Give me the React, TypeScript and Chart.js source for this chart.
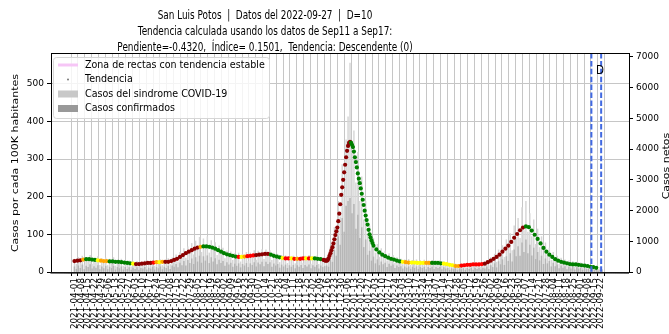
import React, { useEffect, useRef } from 'react';
import { Chart, registerables } from 'chart.js';

Chart.register(...registerables);

// ---------------- DATA ----------------
const START_DATE_UTC = Date.UTC(2021, 3, 1); // day 0 = 2021-04-01

const TITLE_LINES = [
  'San Luis Potos  |  Datos del 2022-09-27  |  D=10',
  'Tendencia calculada usando los datos de Sep11 a Sep17:',
  'Pendiente=-0.4320,  Índice= 0.1501,  Tendencia: Descendente (0)',
];
const LEFT_AXIS_TITLE = 'Casos por cada 100K habitantes';
const RIGHT_AXIS_TITLE = 'Casos netos';
const LEGEND_LABELS = [
  'Zona de rectas con tendencia estable',
  'Tendencia',
  'Casos del sindrome COVID-19',
  'Casos confirmados',
];
const MARKER_TEXT = 'D';

// Trend (cases per 100K) — day index since 2021-04-01
const TREND_DAYS = [
  0, 3, 6, 9, 12, 15, 18, 21, 24, 27,
  30, 33, 36, 39, 42, 45, 48, 51, 54, 57,
  60, 63, 66, 69, 72, 75, 78, 81, 84, 87,
  90, 93, 96, 99, 102, 105, 108, 111, 114, 117,
  120, 123, 126, 129, 132, 135, 138, 141, 144, 147,
  150, 153, 156, 159, 162, 165, 168, 171, 174, 177,
  180, 183, 186, 189, 192, 195, 198, 201, 204, 207,
  210, 213, 216, 219, 222, 225, 228, 231, 234, 237,
  240, 243, 246, 249, 252, 255,
  256, 257, 258, 259, 260, 261, 262, 263, 264, 265,
  266, 267, 268, 269, 270, 271, 272, 273, 274, 275,
  276, 277, 278, 279, 280, 281, 282, 283, 284, 285,
  286, 287, 288, 289, 290, 291, 292, 293, 294, 295,
  296, 297, 298, 299, 300, 301, 302, 303, 304, 305, 306,
  309, 312, 315, 318, 321, 324, 327, 330, 333, 336,
  339, 342, 345, 348, 351, 354, 357, 360, 363, 366,
  369, 372, 375, 378, 381, 384, 387, 390, 393, 396,
  399, 402, 405, 408, 411, 414, 417, 420, 423, 426,
  429, 432, 435, 438, 441, 444, 447, 450, 453, 456,
  459, 462, 465, 468, 471, 474, 477, 480, 483, 486,
  489, 492, 495, 498, 501, 504, 507, 510, 513, 516,
  519, 522, 525, 528, 531, 534,
];
const TREND_VALUES = [
  29, 30, 31, 33, 34, 34, 33, 32, 31, 30,
  29, 29, 28, 28, 27, 27, 26, 25, 24, 23,
  22, 21, 21, 22, 23, 24, 24, 25, 26, 26,
  27, 27, 27, 29, 32, 35, 40, 45, 50, 54,
  58, 62, 65, 67, 68, 68, 67, 65, 62, 58,
  54, 50, 47, 45, 43, 41, 40, 40, 41, 42,
  43, 44, 45, 46, 47, 48, 48, 46, 43, 41,
  39, 37, 36, 36, 36, 35, 35, 35, 36, 36,
  36, 36, 36, 35, 34, 32,
  31, 30, 30, 31, 36, 43, 50, 58, 66, 76,
  87, 98, 108, 118, 135, 155, 180, 205, 225, 245,
  265, 285, 305, 322, 335, 343, 346, 344, 338, 332,
  320, 305, 292, 278, 262, 248, 236, 222, 208, 192,
  178, 163, 150, 138, 126, 112, 100, 92, 84, 77, 70,
  60, 52, 46, 42, 38, 35, 33, 30, 28, 27,
  26, 25, 25, 25, 24, 24, 24, 24, 24, 24,
  24, 24, 23, 22, 21, 19, 18, 16, 16, 17,
  18, 19, 19, 20, 20, 20, 21, 22, 26, 30,
  35, 40, 46, 54, 62, 70, 80, 91, 101, 111,
  118, 121, 119, 110, 99, 88, 76, 64, 54, 46,
  40, 34, 30, 27, 25, 23, 21, 20, 20, 19,
  18, 17, 16, 14, 13, 11,
];
// Trend colour runs: each run starts at the given day
const COLOR_RUN_START = [
  0, 9, 12, 24, 27, 36, 60, 63, 81, 84, 87, 90, 93, 129, 132, 168, 171, 174, 177, 186,
  201, 213, 216, 222, 225, 228, 231, 237, 240, 243, 246, 254, 283, 336, 339, 345, 360, 366,
  378, 390, 396, 420, 462,
];
const COLOR_RUN_COLOR = [
  'darkred', 'orange', 'green', 'yellow', 'orange', 'green', 'yellow', 'darkred', 'red', 'orange',
  'yellow', 'orange', 'darkred', 'orange', 'green', 'red', 'yellow', 'orange', 'red', 'darkred',
  'green', 'yellow', 'red', 'yellow', 'red', 'orange', 'red', 'yellow', 'red', 'yellow',
  'green', 'darkred', 'green', 'yellow', 'orange', 'yellow', 'orange', 'green',
  'yellow', 'orange', 'red', 'darkred', 'green',
];

// Daily bars (net cases), sampled every 2 days from day 0
const BAR_FIRST_DAY = 0;
const BAR_STEP_DAYS = 2;
const SYNDROME_CASES = [
  420, 250, 480, 310, 520, 230, 470, 360, 540, 260, 450, 330, 500, 220,
  440, 280, 460, 210, 420, 300, 470, 200, 390, 290, 420, 190, 380, 250,
  360, 170, 330, 240, 350, 160, 310, 250, 360, 180, 340, 260, 380, 190,
  370, 280, 400, 210, 390, 300, 440, 240, 460, 380, 560, 330, 640, 470,
  760, 450, 820, 620, 930, 560, 1010, 720, 1130, 640, 1080, 800, 1150, 620,
  1020, 730, 960, 540, 850, 620, 780, 440, 690, 520, 660, 380, 600, 450,
  620, 330, 580, 460, 640, 350, 620, 500, 700, 390, 680, 540, 730, 410,
  720, 560, 700, 380, 620, 460, 580, 310, 540, 400, 530, 280, 500, 380,
  520, 270, 490, 370, 510, 290, 520, 400, 540, 260, 500, 380, 520, 250, 470, 360, 430,
  470, 380, 820, 700, 1450, 1100, 2300, 1800, 3500, 2600, 4300, 5050, 6800, 3900, 4600, 2900, 3900, 2300, 3100, 1700, 2300, 1200,
  1500, 800, 1100, 620, 900, 480, 760, 560, 680, 360, 600, 440, 540, 280, 470, 350, 420,
  240, 400, 300, 410, 220, 380, 290, 400, 210, 370, 280, 390, 200, 360, 290, 380, 210, 360, 280, 370, 190,
  330, 240, 300, 150, 270, 200, 260, 130, 250, 190, 270, 140, 280, 210, 300, 150, 290, 220, 310, 160, 300, 240,
  380, 210, 470, 330, 580, 320, 720, 520, 860, 480, 1050, 760, 1250, 700, 1500, 1080, 1750, 1100, 2100, 1350, 2300,
  1300, 1900, 1150, 1700, 900, 1400, 800, 1150, 560, 950, 600, 780, 380, 640, 400, 520, 250, 450, 300, 400,
  190, 360, 240, 340, 170, 320, 230, 300, 150, 280, 190, 240, 110, 210, 150, 180, 80, 150, 90,
];
const CONFIRMED_CASES = [
  170, 90, 200, 120, 230, 80, 190, 150, 240, 100, 180, 130, 210, 80,
  170, 110, 190, 80, 160, 120, 190, 70, 150, 110, 170, 70, 150, 90,
  140, 60, 130, 90, 140, 60, 120, 100, 150, 70, 130, 100, 160, 70,
  150, 110, 170, 80, 160, 120, 190, 90, 200, 160, 250, 140, 290, 210,
  350, 200, 380, 280, 430, 250, 470, 330, 520, 290, 500, 360, 530, 280,
  470, 330, 440, 240, 390, 280, 350, 190, 310, 230, 290, 160, 260, 190,
  270, 140, 250, 200, 280, 150, 270, 220, 310, 170, 300, 240, 320, 180,
  320, 250, 310, 160, 270, 200, 250, 130, 230, 170, 230, 120, 210, 160,
  220, 110, 210, 160, 220, 120, 220, 170, 230, 110, 210, 160, 220, 100, 200, 150, 180,
  200, 160, 380, 320, 700, 520, 1150, 880, 1750, 1300, 2150, 2300, 2400, 1900, 2200, 1400, 1850, 1100, 1450, 800, 1050, 550,
  680, 360, 490, 270, 400, 210, 330, 240, 290, 150, 260, 190, 230, 120, 200, 150, 180,
  100, 170, 130, 170, 90, 160, 120, 170, 90, 150, 120, 160, 80, 150, 120, 160, 90, 150, 120, 150, 80,
  140, 100, 120, 60, 110, 80, 110, 50, 100, 80, 110, 60, 120, 90, 130, 60, 120, 90, 130, 70, 130, 100,
  170, 90, 210, 150, 270, 140, 340, 240, 400, 220, 500, 350, 600, 330, 720, 500, 830, 520, 950, 640, 1050,
  600, 880, 530, 780, 410, 640, 370, 520, 250, 430, 270, 350, 170, 290, 180, 230, 110, 200, 130, 180,
  80, 160, 100, 150, 70, 140, 100, 130, 60, 120, 80, 100, 50, 90, 60, 80, 30, 60, 40,
];

const LEFT_TICKS = [0, 100, 200, 300, 400, 500];
const RIGHT_TICKS = [0, 1000, 2000, 3000, 4000, 5000, 6000, 7000];
const X_TICK_COUNT = 78; // weekly labels 2021-04-01 ... 2022-09-22
const X_TICK_STEP_DAYS = 7;
const MARKER_DAYS = [529, 539];

const X_MIN = -24;
const X_MAX = 567.5;
const Y_MAX = 582;
const Y2_MAX = 7130;

// ---------------- HELPERS ----------------
const dayToLabel = (d: number) =>
  new Date(START_DATE_UTC + Math.round(d) * 86400000).toISOString().slice(0, 10);

const colorForDay = (d: number) => {
  let c = COLOR_RUN_COLOR[0];
  for (let i = 0; i < COLOR_RUN_START.length; i++) {
    if (COLOR_RUN_START[i] <= d) c = COLOR_RUN_COLOR[i];
  }
  return c;
};

const drawText = (
  ctx: CanvasRenderingContext2D,
  text: string,
  x: number,
  y: number,
  font: string,
  align: CanvasTextAlign,
  baseline: CanvasTextBaseline,
  sx = 1,
  rot = 0,
  color = '#000'
) => {
  ctx.save();
  ctx.translate(x, y);
  ctx.scale(sx, 1);
  if (rot) ctx.rotate(rot);
  ctx.font = font;
  ctx.fillStyle = color;
  ctx.textAlign = align;
  ctx.textBaseline = baseline;
  ctx.fillText(text, 0, 0);
  ctx.restore();
};

const overlayPlugin = {
  id: 'overlay',
  afterDatasetsDraw(chart: any) {
    const { ctx, chartArea, scales } = chart;
    const x = scales.x;
    ctx.save();
    ctx.strokeStyle = '#4169e1';
    ctx.lineWidth = 2;
    ctx.setLineDash([5.5, 2.4]);
    MARKER_DAYS.forEach((d) => {
      const px = x.getPixelForValue(d);
      ctx.beginPath();
      ctx.moveTo(px, chartArea.top);
      ctx.lineTo(px, chartArea.bottom);
      ctx.stroke();
    });
    ctx.restore();
  },
  afterDraw(chart: any) {
    const { ctx, chartArea, scales } = chart;
    const { left, right, top, bottom } = chartArea;
    const x = scales.x;

    // top spine
    ctx.save();
    ctx.strokeStyle = '#000';
    ctx.lineWidth = 1;
    ctx.beginPath();
    ctx.moveTo(left, top + 0.5);
    ctx.lineTo(right, top + 0.5);
    ctx.stroke();

    // minor daily ticks
    ctx.lineWidth = 0.7;
    ctx.strokeStyle = '#222';
    ctx.beginPath();
    for (let d = Math.ceil(x.min); d <= x.max; d++) {
      const px = x.getPixelForValue(d);
      ctx.moveTo(px, bottom);
      ctx.lineTo(px, bottom + 2);
    }
    ctx.stroke();
    ctx.restore();

    // title
    const titleFont = '12px "DejaVu Sans"';
    const baselines = [18.5, 34.5, 50.5];
    TITLE_LINES.forEach((t, i) => drawText(ctx, t, 265, baselines[i], titleFont, 'center', 'alphabetic', 0.74));

    // axis titles
    drawText(ctx, LEFT_AXIS_TITLE, 16, 163, '11px "DejaVu Sans"', 'center', 'middle', 0.865, -Math.PI / 2);
    drawText(ctx, RIGHT_AXIS_TITLE, 667, 166, '11px "DejaVu Sans"', 'center', 'middle', 0.865, -Math.PI / 2);

    // D marker text
    drawText(ctx, MARKER_TEXT, 600, 71, '12px "DejaVu Sans"', 'center', 'middle', 0.865);

    // legend
    const bx = 53.5, by = 57.5, bw = 216, bh = 61;
    ctx.save();
    ctx.fillStyle = 'rgba(255,255,255,0.8)';
    ctx.strokeStyle = '#d6d6d6';
    ctx.lineWidth = 1;
    ctx.beginPath();
    ctx.roundRect(bx, by, bw, bh, 3);
    ctx.fill();
    ctx.stroke();

    const rows = [65, 79.5, 94, 108.5];
    // pink line
    ctx.strokeStyle = '#f6c6f6';
    ctx.lineWidth = 3;
    ctx.beginPath();
    ctx.moveTo(58, rows[0]);
    ctx.lineTo(78, rows[0]);
    ctx.stroke();
    // dot
    ctx.fillStyle = '#777';
    ctx.beginPath();
    ctx.arc(68, rows[1], 1, 0, Math.PI * 2);
    ctx.fill();
    // boxes
    ctx.fillStyle = '#c8c8c8';
    ctx.fillRect(58, rows[2] - 3.5, 20, 7);
    ctx.fillStyle = '#999999';
    ctx.fillRect(58, rows[3] - 3.5, 20, 7);
    ctx.restore();

    LEGEND_LABELS.forEach((t, i) =>
      drawText(ctx, t, 85, rows[i], '11px "DejaVu Sans"', 'left', 'middle', 0.865)
    );
  },
};

// ---------------- COMPONENT ----------------
export default function App() {
  const canvasRef = useRef<HTMLCanvasElement>(null);

  useEffect(() => {
    document.body.style.margin = '0';
    const canvas = canvasRef.current;
    if (!canvas) return;

    const trendData = TREND_DAYS.map((d, i) => ({ x: d, y: TREND_VALUES[i] }));
    const trendColors = TREND_DAYS.map((d) => colorForDay(d));
    const syndromeData = SYNDROME_CASES.map((v, i) => ({ x: BAR_FIRST_DAY + i * BAR_STEP_DAYS, y: v }));
    const confirmedData = CONFIRMED_CASES.map((v, i) => ({ x: BAR_FIRST_DAY + i * BAR_STEP_DAYS, y: v }));
    const xTicks = Array.from({ length: X_TICK_COUNT }, (_, i) => ({ value: i * X_TICK_STEP_DAYS }));

    const gridColor = '#c6c6c6';
    const tickFont = { family: 'DejaVu Sans', size: 9 };

    const chart = new Chart(canvas, {
      type: 'bar',
      data: {
        datasets: [
          {
            type: 'line',
            label: LEGEND_LABELS[1],
            data: trendData,
            yAxisID: 'y',
            showLine: false,
            pointRadius: 2.1,
            pointHoverRadius: 2.1,
            pointBorderWidth: 0,
            pointBackgroundColor: trendColors,
            order: 0,
          } as any,
          {
            type: 'bar',
            label: LEGEND_LABELS[3],
            data: confirmedData,
            yAxisID: 'y2',
            backgroundColor: '#b4b4b4',
            barThickness: 0.8,
            grouped: false,
            order: 1,
          } as any,
          {
            type: 'bar',
            label: LEGEND_LABELS[2],
            data: syndromeData,
            yAxisID: 'y2',
            backgroundColor: '#d6d6d6',
            barThickness: 0.8,
            grouped: false,
            order: 2,
          } as any,
        ],
      },
      options: {
        animation: false,
        responsive: false,
        events: [],
        layout: { padding: { top: 53, left: 0, right: 0, bottom: 0 } },
        plugins: {
          legend: { display: false },
          tooltip: { enabled: false },
          title: { display: false },
        },
        scales: {
          x: {
            type: 'linear',
            min: X_MIN,
            max: X_MAX,
            offset: false,
            afterBuildTicks: (s: any) => {
              s.ticks = xTicks;
            },
            afterFit: (s: any) => {
              s.height = 62;
            },
            ticks: {
              autoSkip: false,
              maxRotation: 90,
              minRotation: 90,
              padding: 2,
              color: '#000',
              font: { family: 'DejaVu Sans', size: 8.8 },
              callback: (v: any) => dayToLabel(Number(v)),
            },
            grid: { color: gridColor, lineWidth: 1, tickColor: '#000', tickLength: 4 },
            border: { display: true, color: '#000', width: 1 },
          },
          y: {
            type: 'linear',
            position: 'left',
            min: 0,
            max: Y_MAX,
            afterBuildTicks: (s: any) => {
              s.ticks = LEFT_TICKS.map((v) => ({ value: v }));
            },
            afterFit: (s: any) => {
              s.width = 51;
            },
            ticks: { color: '#000', font: tickFont, padding: 3, callback: (v: any) => String(v) },
            grid: { color: gridColor, lineWidth: 1, tickColor: '#000', tickLength: 4 },
            border: { display: true, color: '#000', width: 1 },
          },
          y2: {
            type: 'linear',
            position: 'right',
            min: 0,
            max: Y2_MAX,
            afterBuildTicks: (s: any) => {
              s.ticks = RIGHT_TICKS.map((v) => ({ value: v }));
            },
            afterFit: (s: any) => {
              s.width = 40;
            },
            ticks: { color: '#000', font: tickFont, padding: 3, callback: (v: any) => String(v) },
            grid: { drawOnChartArea: false, tickColor: '#000', tickLength: 4 },
            border: { display: true, color: '#000', width: 1 },
          },
        },
      } as any,
      plugins: [overlayPlugin],
    });

    return () => chart.destroy();
  }, []);

  return (
    <div style={{ width: 669, height: 334, background: '#fff' }}>
      <canvas ref={canvasRef} width={669} height={334} style={{ display: 'block' }} />
    </div>
  );
}
